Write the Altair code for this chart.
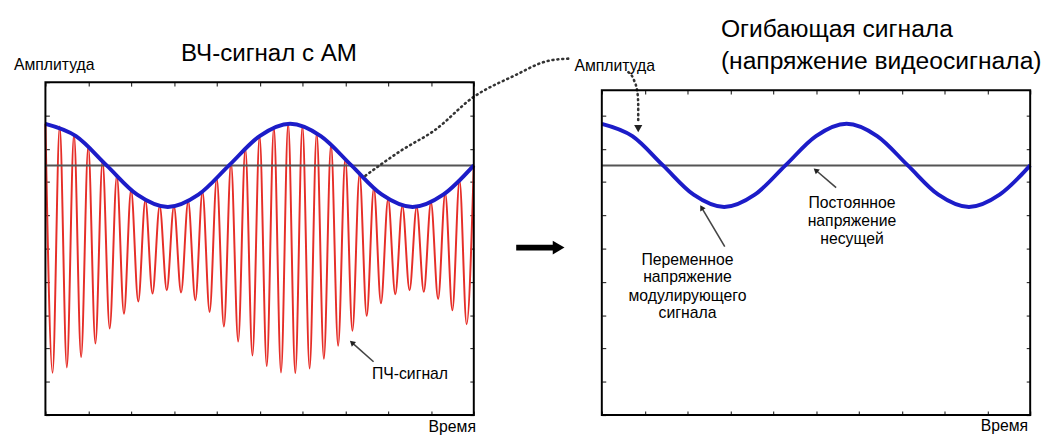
import altair as alt
import pandas as pd

FONT = "Liberation Sans"

# ---------------- data (axis units 0..10) ----------------
# IF (carrier) signal: successive crest / trough values along the time axis
carrier_t = [0, 0.167, 0.333, 0.5, 0.667, 0.833, 1.0, 1.167, 1.333, 1.5, 1.667, 1.833,
             2.0, 2.167, 2.333, 2.5, 2.667, 2.833, 3.0, 3.167, 3.333, 3.5, 3.667, 3.833,
             4.0, 4.167, 4.333, 4.5, 4.667, 4.833, 5.0, 5.167, 5.333, 5.5, 5.667, 5.833,
             6.0, 6.167, 6.333, 6.5, 6.667, 6.833, 7.0, 7.167, 7.333, 7.5, 7.667, 7.833,
             8.0, 8.167, 8.333, 8.5, 8.667, 8.833, 9.0, 9.167, 9.333, 9.5, 9.667, 9.833, 10.0]
carrier_v = [8.75, 1.27, 8.67, 1.43, 8.43, 1.74, 8.07, 2.15, 7.63, 2.60, 7.18, 3.04,
             6.77, 3.41, 6.45, 3.65, 6.28, 3.75, 6.27, 3.68, 6.42, 3.45, 6.71, 3.10,
             7.11, 2.66, 7.57, 2.21, 8.01, 1.79, 8.38, 1.47, 8.64, 1.28, 8.75, 1.26,
             8.69, 1.40, 8.47, 1.69, 8.13, 2.08, 7.70, 2.53, 7.24, 2.98, 6.82, 3.36,
             6.49, 3.63, 6.29, 3.75, 6.26, 3.70, 6.39, 3.49, 6.66, 3.15, 7.05, 2.73, 7.50]

# envelope (video signal)
envelope_t = [0, 0.714, 1.429, 2.143, 2.857, 3.571, 4.286, 5.0, 5.714, 6.429, 7.143,
              7.857, 8.571, 9.286, 10.0]
envelope_v = [8.75, 8.38, 7.5, 6.62, 6.25, 6.62, 7.5, 8.38, 8.75, 8.38, 7.5,
              6.62, 6.25, 6.62, 7.5]

# constant carrier voltage (grey line)
carrier_level = [7.5]

tick_vals_x = [0, 1, 2, 3, 4, 5, 6, 7, 8, 9, 10]
tick_vals_y_left = [0, 1, 2, 3, 4, 5, 6, 7, 8, 9, 10]
tick_vals_y_right = [0, 1, 2, 3, 4, 5, 6, 7, 8, 9]

W, H = 435, 338
xs = alt.Scale(domain=[0, 10], nice=False, zero=False)
ys = alt.Scale(domain=[0, 10], nice=False, zero=False)


def ax(orient, offset, values):
    return alt.Axis(orient=orient, offset=offset, values=values, labels=False,
                    domain=False, grid=False, ticks=True, tickSize=4,
                    tickColor="#333333", tickWidth=1.2, title="")


def X(field, axis=None):
    return alt.X(field, type="quantitative", scale=xs, axis=axis)


def Y(field, axis=None):
    return alt.Y(field, type="quantitative", scale=ys, axis=axis)


carrier_df = pd.DataFrame({"t": carrier_t, "v": carrier_v})
env_df = pd.DataFrame({"t": envelope_t, "v": envelope_v})
level_df = pd.DataFrame({"v": carrier_level})


def text_layer(rows, size, align, color="black"):
    df = pd.DataFrame(rows, columns=["label", "x", "y"])
    return alt.Chart(df).mark_text(font=FONT, fontSize=size, align=align,
                                   baseline="middle", color=color).encode(
        x=X("x:Q"), y=Y("y:Q"), text="label:N")


def line_layer(rows, color="#444444", width=1.5, dash=None):
    df = pd.DataFrame(rows, columns=["id", "o", "x", "y"])
    kw = dict(color=color, strokeWidth=width, interpolate="monotone")
    if dash:
        kw["strokeDash"] = dash
        kw["strokeCap"] = "round"
    return alt.Chart(df).mark_line(**kw).encode(
        x=X("x:Q"), y=Y("y:Q"), detail="id:N", order="o:Q")


def heads_layer(rows, size=45, color="#222222"):
    df = pd.DataFrame(rows, columns=["x", "y", "ang"])
    return alt.Chart(df).mark_point(shape="triangle", filled=True, size=size,
                                    color=color, opacity=1).encode(
        x=X("x:Q"), y=Y("y:Q"), angle=alt.Angle("ang:Q", scale=None))


# ---------------- left panel: AM RF signal ----------------
frame_left = pd.DataFrame({"x0": [0], "x1": [10], "y0": [0], "y1": [10]})

l_carrier = alt.Chart(carrier_df).mark_line(color="#e62e28", strokeWidth=2,
                                            interpolate="monotone").encode(
    x=X("t:Q"), y=Y("v:Q"))
l_level = alt.Chart(level_df).mark_rule(color="#555555", strokeWidth=2).encode(y=Y("v:Q"))
l_env = alt.Chart(env_df).mark_line(color="#1c1cc8", strokeWidth=4,
                                    interpolate="monotone").encode(
    x=X("t:Q", ax("top", -4, tick_vals_x)), y=Y("v:Q", ax("right", -4, tick_vals_y_left)))
l_frame = alt.Chart(frame_left).mark_rect(fillOpacity=0, stroke="black", strokeWidth=2).encode(
    x=X("x0:Q", ax("bottom", -4, tick_vals_x)), x2="x1",
    y=Y("y0:Q", ax("left", -4, tick_vals_y_left)), y2="y1")

l_dotted = line_layer([
    ("a", 0, 7.47, 7.19), ("a", 1, 8.32, 7.96), ("a", 2, 9.08, 8.55), ("a", 3, 10.0, 9.56),
    ("a", 4, 10.92, 10.18), ("a", 5, 11.77, 10.65), ("a", 6, 12.25, 10.71)],
    color="#333333", width=2.6, dash=[1, 4])
l_arrow = line_layer([("p", 0, 7.66, 1.60), ("p", 1, 7.17, 2.16)], color="#444444", width=1.6)
l_heads = heads_layer([(7.17, 2.16, 312)], size=40)

big_shaft = alt.Chart(pd.DataFrame({"x": [10.99], "x2": [11.89], "y": [5.03]})).mark_rule(
    color="black", strokeWidth=6).encode(x=X("x:Q"), x2="x2", y=Y("y:Q"))
big_head = alt.Chart(pd.DataFrame({"x": [11.98], "y": [5.03]})).mark_point(
    shape="triangle-right", filled=True, size=190, color="black", opacity=1).encode(
    x=X("x:Q"), y=Y("y:Q"))

l_title = text_layer([("ВЧ-сигнал с АМ", 5.22, 10.83)], 24.5, "center")
l_lab_left = text_layer([("Амплитуда", -0.736, 10.5)], 16, "left")
l_lab_right = text_layer([("Время", 10.05, -0.36)], 16, "right")
l_lab_center = text_layer([("ПЧ-сигнал", 8.51, 1.24)], 16, "center")

left = alt.layer(
    l_carrier, l_level, l_env, l_dotted, l_arrow, l_heads, big_shaft, big_head,
    l_title, l_lab_left, l_lab_right, l_lab_center, l_frame
).resolve_axis(x="independent", y="independent").properties(width=W, height=H)

# ---------------- right panel: envelope ----------------
frame_right = pd.DataFrame({"x0": [0], "x1": [10], "y0": [0], "y1": [9.76]})

r_level = alt.Chart(level_df).mark_rule(color="#555555", strokeWidth=2).encode(y=Y("v:Q"))
r_env = alt.Chart(env_df).mark_line(color="#1c1cc8", strokeWidth=4,
                                    interpolate="monotone").encode(
    x=X("t:Q", ax("top", -12, tick_vals_x)), y=Y("v:Q", ax("right", -4, tick_vals_y_right)))
r_frame = alt.Chart(frame_right).mark_rect(fillOpacity=0, stroke="black", strokeWidth=2).encode(
    x=X("x0:Q", ax("bottom", -4, tick_vals_x)), x2="x1",
    y=Y("y0:Q", ax("left", -4, tick_vals_y_right)), y2="y1")

r_dotted = line_layer([
    ("b", 0, 0.62, 10.30), ("b", 1, 0.76, 10.03), ("b", 2, 0.83, 9.70),
    ("b", 3, 0.85, 9.35), ("b", 4, 0.85, 8.80)],
    color="#333333", width=2.6, dash=[1, 4])
r_arrows = line_layer([
    ("v", 0, 2.87, 5.06), ("v", 1, 2.34, 6.21),
    ("d", 0, 5.47, 6.83), ("d", 1, 5.01, 7.34)], color="#444444", width=1.6)
r_heads = heads_layer([(2.34, 6.21, 330), (5.01, 7.34, 310)], size=40)
r_head_dot = heads_layer([(0.85, 8.64, 180)], size=70, color="#222222")

r_title = text_layer([("Огибающая сигнала", 2.78, 11.6),
                      ("(напряжение видеосигнала)", 2.78, 10.62)], 25, "left")
r_lab_left = text_layer([("Амплитуда", -0.64, 10.47)], 16, "left")
r_lab_right = text_layer([("Время", 9.95, -0.33)], 16, "right")
r_lab_center = text_layer([
    ("Переменное", 2.0, 4.67), ("напряжение", 2.0, 4.14),
    ("модулирующего", 2.0, 3.58), ("сигнала", 2.0, 3.05),
    ("Постоянное", 5.84, 6.36), ("напряжение", 5.84, 5.83), ("несущей", 5.84, 5.30)],
    16, "center")

right = alt.layer(
    r_level, r_env, r_dotted, r_arrows, r_heads, r_head_dot,
    r_title, r_lab_left, r_lab_right, r_lab_center, r_frame
).resolve_axis(x="independent", y="independent").properties(width=W, height=H)

chart = alt.hconcat(left, right, spacing=130, bounds="flush").properties(
    padding={"left": 5, "top": 5, "right": 0, "bottom": 0}
).configure_view(strokeWidth=0)

chart.save("out.html", embed_options={"renderer": "svg", "actions": False})
